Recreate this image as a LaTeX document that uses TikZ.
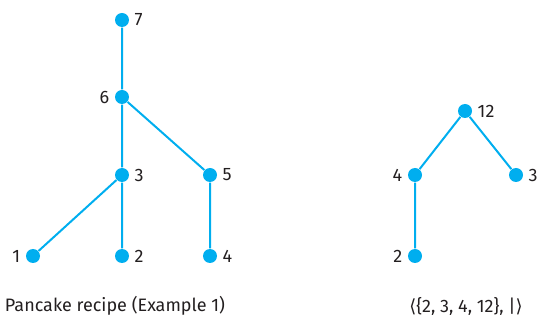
\documentclass[tikz,border=0pt]{standalone}
\usepackage{fontspec}
\setmainfont{Fira Sans}
\newfontfamily\bracketfont{DejaVu Sans}
\definecolor{hassecyan}{HTML}{00AEEF}
\definecolor{labelgray}{HTML}{231F20}
\begin{document}
\begin{tikzpicture}[x=0.75pt, y=-0.75pt, thick,
    main/.style = {circle, fill=hassecyan, inner sep=0pt, minimum size=10.5pt},
    every label/.style = {font=\fontsize{13.5}{15}\selectfont, text=labelgray, inner sep=3.5pt},
    edge/.style = {draw=hassecyan, line width=1.5pt}]
	\useasboundingbox (0,0) rectangle (543,320);
	% pancake recipe
	\node[main, label=right:7] (p7) at (122,20) {};
	\node[main, label=left:6] (p6) at (122,97) {};
	\node[main, label=right:3] (p3) at (122,175) {};
	\node[main, label=right:5] (p5) at (210,175) {};
	\node[main, label=left:1] (p1) at (33,256) {};
	\node[main, label=right:2] (p2) at (122,256) {};
	\node[main, label=right:4] (p4) at (210,256) {};
	\path[edge]
		(p7) -- (p6) (p6) -- (p3) (p6) -- (p5)
		(p3) -- (p1) (p3) -- (p2) (p5) -- (p4);
	% divisibility
	\node[main, label=right:12] (d12) at (465,111) {};
	\node[main, label=left:4] (d4) at (415,175) {};
	\node[main, label=right:3] (d3) at (516,175) {};
	\node[main, label=left:2] (d2) at (415,256) {};
	\path[edge]
		(d12) -- (d4) (d12) -- (d3) (d4) -- (d2);
	% captions
	\node[font=\fontsize{13.5}{15}\selectfont, text=labelgray] (cap1) at (115,306) {Pancake recipe (Example 1)};
	\node[font=\fontsize{13.5}{15}\selectfont, text=labelgray] (cap2) at (466,306) {{\bracketfont ⟨}\{2, 3, 4, 12\}, |{\bracketfont ⟩}};
\end{tikzpicture}
\end{document}
